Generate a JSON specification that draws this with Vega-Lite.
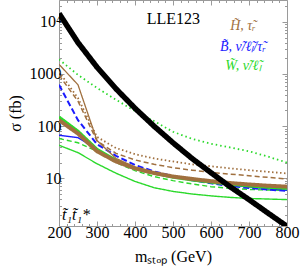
{
  "$schema": "https://vega.github.io/schema/vega-lite/v6.json",
  "width": 228,
  "height": 226,
  "autosize": {"type": "none"},
  "padding": {"left": 59, "top": 0, "right": 13, "bottom": 49},
  "background": "white",
  "config": {
    "view": {"stroke": "#9a9a9a", "strokeWidth": 1},
    "axis": {
      "domain": false,
      "grid": false,
      "tickColor": "#9a9a9a",
      "labelFont": "Liberation Serif",
      "labelFontSize": 16,
      "labelColor": "black",
      "labelFlush": false,
      "labelOverlap": false,
      "titleFont": "Liberation Serif",
      "titleFontSize": 16,
      "titleFontWeight": "normal",
      "titleColor": "black"
    }
  },
  "datasets": {
    "curves": [
      {"s": "Wthin", "m": 200, "v": 43}, {"s": "Wthin", "m": 250, "v": 31}, {"s": "Wthin", "m": 300, "v": 19}, {"s": "Wthin", "m": 350, "v": 12.5}, {"s": "Wthin", "m": 400, "v": 8.7}, {"s": "Wthin", "m": 450, "v": 6.6}, {"s": "Wthin", "m": 500, "v": 5.6}, {"s": "Wthin", "m": 550, "v": 5.0}, {"s": "Wthin", "m": 600, "v": 4.6}, {"s": "Wthin", "m": 650, "v": 4.3}, {"s": "Wthin", "m": 700, "v": 4.1}, {"s": "Wthin", "m": 750, "v": 4.0}, {"s": "Wthin", "m": 800, "v": 3.9},
      {"s": "Wdash", "m": 200, "v": 58}, {"s": "Wdash", "m": 250, "v": 48}, {"s": "Wdash", "m": 300, "v": 33}, {"s": "Wdash", "m": 350, "v": 20}, {"s": "Wdash", "m": 400, "v": 14}, {"s": "Wdash", "m": 450, "v": 10.8}, {"s": "Wdash", "m": 500, "v": 9}, {"s": "Wdash", "m": 550, "v": 7.8}, {"s": "Wdash", "m": 600, "v": 6.9}, {"s": "Wdash", "m": 650, "v": 6.4}, {"s": "Wdash", "m": 700, "v": 6.1}, {"s": "Wdash", "m": 750, "v": 5.95}, {"s": "Wdash", "m": 800, "v": 5.85},
      {"s": "Bsolid", "m": 200, "v": 67}, {"s": "Bsolid", "m": 250, "v": 60}, {"s": "Bsolid", "m": 300, "v": 36}, {"s": "Bsolid", "m": 350, "v": 22}, {"s": "Bsolid", "m": 400, "v": 15.5}, {"s": "Bsolid", "m": 450, "v": 12.5}, {"s": "Bsolid", "m": 500, "v": 10.5}, {"s": "Bsolid", "m": 550, "v": 9.2}, {"s": "Bsolid", "m": 600, "v": 8.2}, {"s": "Bsolid", "m": 650, "v": 7.4}, {"s": "Bsolid", "m": 700, "v": 6.8}, {"s": "Bsolid", "m": 750, "v": 6.3}, {"s": "Bsolid", "m": 800, "v": 5.9},
      {"s": "Bdash", "m": 200, "v": 620}, {"s": "Bdash", "m": 250, "v": 130}, {"s": "Bdash", "m": 300, "v": 45}, {"s": "Bdash", "m": 350, "v": 27}, {"s": "Bdash", "m": 400, "v": 18}, {"s": "Bdash", "m": 450, "v": 13.5}, {"s": "Bdash", "m": 500, "v": 11}, {"s": "Bdash", "m": 550, "v": 9.2}, {"s": "Bdash", "m": 600, "v": 8}, {"s": "Bdash", "m": 650, "v": 7.1}, {"s": "Bdash", "m": 700, "v": 6.5}, {"s": "Bdash", "m": 750, "v": 6.1}, {"s": "Bdash", "m": 800, "v": 5.7},
      {"s": "Wthick", "m": 200, "v": 150}, {"s": "Wthick", "m": 250, "v": 80}, {"s": "Wthick", "m": 300, "v": 36}, {"s": "Wthick", "m": 350, "v": 22}, {"s": "Wthick", "m": 400, "v": 15.5}, {"s": "Wthick", "m": 450, "v": 12.5}, {"s": "Wthick", "m": 500, "v": 10.5}, {"s": "Wthick", "m": 550, "v": 9.3}, {"s": "Wthick", "m": 600, "v": 8.4}, {"s": "Wthick", "m": 650, "v": 7.7}, {"s": "Wthick", "m": 700, "v": 7.1}, {"s": "Wthick", "m": 750, "v": 6.7}, {"s": "Wthick", "m": 800, "v": 6.4},
      {"s": "Hthick", "m": 200, "v": 130}, {"s": "Hthick", "m": 250, "v": 72}, {"s": "Hthick", "m": 300, "v": 33}, {"s": "Hthick", "m": 350, "v": 21}, {"s": "Hthick", "m": 400, "v": 15.5}, {"s": "Hthick", "m": 450, "v": 12.6}, {"s": "Hthick", "m": 500, "v": 10.8}, {"s": "Hthick", "m": 550, "v": 9.7}, {"s": "Hthick", "m": 600, "v": 8.8}, {"s": "Hthick", "m": 650, "v": 8.1}, {"s": "Hthick", "m": 700, "v": 7.6}, {"s": "Hthick", "m": 750, "v": 7.2}, {"s": "Hthick", "m": 800, "v": 6.9},
      {"s": "Hdash", "m": 200, "v": 950}, {"s": "Hdash", "m": 250, "v": 300}, {"s": "Hdash", "m": 300, "v": 52}, {"s": "Hdash", "m": 350, "v": 30}, {"s": "Hdash", "m": 400, "v": 22.5}, {"s": "Hdash", "m": 450, "v": 18.5}, {"s": "Hdash", "m": 500, "v": 16}, {"s": "Hdash", "m": 550, "v": 14.3}, {"s": "Hdash", "m": 600, "v": 13}, {"s": "Hdash", "m": 650, "v": 12}, {"s": "Hdash", "m": 700, "v": 11.2}, {"s": "Hdash", "m": 750, "v": 10.4}, {"s": "Hdash", "m": 800, "v": 9.7},
      {"s": "Hdot", "m": 200, "v": 1100}, {"s": "Hdot", "m": 250, "v": 345}, {"s": "Hdot", "m": 300, "v": 62}, {"s": "Hdot", "m": 350, "v": 38}, {"s": "Hdot", "m": 400, "v": 29}, {"s": "Hdot", "m": 450, "v": 24}, {"s": "Hdot", "m": 500, "v": 21}, {"s": "Hdot", "m": 550, "v": 18.5}, {"s": "Hdot", "m": 600, "v": 17}, {"s": "Hdot", "m": 650, "v": 15.5}, {"s": "Hdot", "m": 700, "v": 14.3}, {"s": "Hdot", "m": 750, "v": 13.3}, {"s": "Hdot", "m": 800, "v": 12.4},
      {"s": "Hthin", "m": 200, "v": 1530}, {"s": "Hthin", "m": 250, "v": 620}, {"s": "Hthin", "m": 300, "v": 53}, {"s": "Hthin", "m": 350, "v": 24}, {"s": "Hthin", "m": 400, "v": 16.5}, {"s": "Hthin", "m": 450, "v": 13}, {"s": "Hthin", "m": 500, "v": 11}, {"s": "Hthin", "m": 550, "v": 9.8}, {"s": "Hthin", "m": 600, "v": 8.9}, {"s": "Hthin", "m": 650, "v": 8.2}, {"s": "Hthin", "m": 700, "v": 7.7}, {"s": "Hthin", "m": 750, "v": 7.3}, {"s": "Hthin", "m": 800, "v": 7.0},
      {"s": "Wdot", "m": 200, "v": 1900}, {"s": "Wdot", "m": 250, "v": 960}, {"s": "Wdot", "m": 300, "v": 540}, {"s": "Wdot", "m": 350, "v": 320}, {"s": "Wdot", "m": 400, "v": 195}, {"s": "Wdot", "m": 450, "v": 125}, {"s": "Wdot", "m": 500, "v": 78}, {"s": "Wdot", "m": 550, "v": 57}, {"s": "Wdot", "m": 600, "v": 46}, {"s": "Wdot", "m": 650, "v": 39}, {"s": "Wdot", "m": 700, "v": 33}, {"s": "Wdot", "m": 750, "v": 26}, {"s": "Wdot", "m": 800, "v": 20},
      {"s": "xsec", "m": 200, "v": 14500}, {"s": "xsec", "m": 250, "v": 4000}, {"s": "xsec", "m": 300, "v": 1350}, {"s": "xsec", "m": 350, "v": 520}, {"s": "xsec", "m": 400, "v": 220}, {"s": "xsec", "m": 450, "v": 100}, {"s": "xsec", "m": 500, "v": 48}, {"s": "xsec", "m": 550, "v": 24}, {"s": "xsec", "m": 600, "v": 12.8}, {"s": "xsec", "m": 650, "v": 6.9}, {"s": "xsec", "m": 700, "v": 3.9}, {"s": "xsec", "m": 750, "v": 2.15}, {"s": "xsec", "m": 800, "v": 1.2}
    ],
    "notes": [
      {"t": "LLE123", "m": 501, "v": 11340, "kind": "plain", "g": "k"},
      {"t": "H̃, τ̃ᵣ", "m": 684, "v": 8330, "kind": "leg", "g": "H"},
      {"t": "B̃, ν̃/ℓ̃ₗ/τ̃ᵣ", "m": 684, "v": 3290, "kind": "leg", "g": "B"},
      {"t": "W̃, ν̃/ℓ̃ₗ", "m": 684, "v": 1420, "kind": "leg", "g": "W"},
      {"t": "t̃₁t̃₁*", "m": 208, "v": 1.98, "kind": "left", "g": "k"}
    ]
  },
  "layer": [
    {
      "data": {"name": "curves"},
      "mark": {"type": "line", "clip": true},
      "encoding": {
        "x": {
          "field": "m", "type": "quantitative",
          "scale": {"domain": [200, 800], "nice": false, "zero": false},
          "axis": {
            "values": [200, 220, 240, 260, 280, 300, 320, 340, 360, 380, 400, 420, 440, 460, 480, 500, 520, 540, 560, 580, 600, 620, 640, 660, 680, 700, 720, 740, 760, 780, 800],
            "labelExpr": "datum.value % 100 == 0 ? format(datum.value, 'd') : ''",
            "tickSize": {"condition": {"test": "datum.value % 100 == 0", "value": -5}, "value": -2.5},
            "title": "mₛₜₒₚ (GeV)", "labelPadding": 3, "titlePadding": 6, "labelOverlap": false, "labelFlush": false, "labelBound": false
          }
        },
        "y": {
          "field": "v", "type": "quantitative",
          "scale": {"type": "log", "domain": [1.216, 26200], "nice": false},
          "axis": {
            "values": [2, 3, 4, 5, 6, 7, 8, 9, 10, 20, 30, 40, 50, 60, 70, 80, 90, 100, 200, 300, 400, 500, 600, 700, 800, 900, 1000, 2000, 3000, 4000, 5000, 6000, 7000, 8000, 9000, 10000, 20000],
            "labelExpr": "datum.value == 10000 ? '10⁴' : (indexof([10, 100, 1000], datum.value) >= 0 ? format(datum.value, 'd') : '')",
            "tickSize": {"condition": {"test": "indexof([10, 100, 1000, 10000], datum.value) >= 0", "value": -5}, "value": -2.5},
            "title": "σ (fb)", "labelPadding": 3, "titlePadding": 6, "labelOverlap": false
          }
        },
        "color": {
          "field": "s", "type": "nominal", "legend": null,
          "scale": {
            "domain": ["Wthin", "Wdash", "Bsolid", "Bdash", "Wthick", "Hthick", "Hdash", "Hdot", "Hthin", "Wdot", "xsec"],
            "range": ["#2bd92b", "#2bd92b", "#1a1aff", "#1a1aff", "#2bd92b", "#a0703f", "#a0703f", "#a0703f", "#a0703f", "#2bd92b", "#000000"]
          }
        },
        "strokeDash": {
          "field": "s", "type": "nominal", "legend": null,
          "scale": {
            "domain": ["Wthin", "Wdash", "Bsolid", "Bdash", "Wthick", "Hthick", "Hdash", "Hdot", "Hthin", "Wdot", "xsec"],
            "range": [[1, 0], [5, 3], [1, 0], [6, 3], [1, 0], [1, 0], [5, 3], [1.5, 2.5], [1, 0], [1.5, 3], [1, 0]]
          }
        },
        "strokeWidth": {
          "field": "s", "type": "nominal", "legend": null,
          "scale": {
            "type": "ordinal",
            "domain": ["Wthin", "Wdash", "Bsolid", "Bdash", "Wthick", "Hthick", "Hdash", "Hdot", "Hthin", "Wdot", "xsec"],
            "range": [1.4, 1.4, 1.4, 2, 3, 4, 1.5, 1.8, 1.3, 1.8, 5.5]
          }
        }
      }
    },
    {
      "data": {"name": "notes"},
      "transform": [{"filter": "datum.kind == 'leg'"}],
      "mark": {"type": "text", "font": "Liberation Serif", "fontStyle": "italic", "fontSize": 14, "align": "center", "baseline": "middle"},
      "encoding": {
        "x": {
          "field": "m", "type": "quantitative",
          "axis": {
            "orient": "top", "labels": false, "title": null,
            "values": [200, 220, 240, 260, 280, 300, 320, 340, 360, 380, 400, 420, 440, 460, 480, 500, 520, 540, 560, 580, 600, 620, 640, 660, 680, 700, 720, 740, 760, 780, 800],
            "tickSize": {"condition": {"test": "datum.value % 100 == 0", "value": -5}, "value": -2.5}
          }
        },
        "y": {
          "field": "v", "type": "quantitative",
          "axis": {
            "orient": "right", "labels": false, "title": null,
            "values": [2, 3, 4, 5, 6, 7, 8, 9, 10, 20, 30, 40, 50, 60, 70, 80, 90, 100, 200, 300, 400, 500, 600, 700, 800, 900, 1000, 2000, 3000, 4000, 5000, 6000, 7000, 8000, 9000, 10000, 20000],
            "tickSize": {"condition": {"test": "indexof([10, 100, 1000, 10000], datum.value) >= 0", "value": -5}, "value": -2.5}
          }
        },
        "text": {"field": "t"},
        "color": {"field": "g", "type": "nominal", "legend": null, "scale": {"domain": ["H", "B", "W", "k"], "range": ["#a0703f", "#1a1aff", "#2bd92b", "#000000"]}}
      }
    },
    {
      "data": {"name": "notes"},
      "transform": [{"filter": "datum.kind == 'plain'"}],
      "mark": {"type": "text", "font": "Liberation Serif", "fontSize": 16, "align": "center", "baseline": "middle", "color": "black"},
      "encoding": {
        "x": {"field": "m", "type": "quantitative", "axis": null},
        "y": {"field": "v", "type": "quantitative", "axis": null},
        "text": {"field": "t"}
      }
    },
    {
      "data": {"name": "notes"},
      "transform": [{"filter": "datum.kind == 'left'"}],
      "mark": {"type": "text", "font": "Liberation Serif", "fontStyle": "italic", "fontSize": 16, "align": "left", "baseline": "middle", "color": "black"},
      "encoding": {
        "x": {"field": "m", "type": "quantitative", "axis": null},
        "y": {"field": "v", "type": "quantitative", "axis": null},
        "text": {"field": "t"}
      }
    }
  ],
  "resolve": {"scale": {"color": "independent"}, "axis": {"x": "independent", "y": "independent"}}
}
